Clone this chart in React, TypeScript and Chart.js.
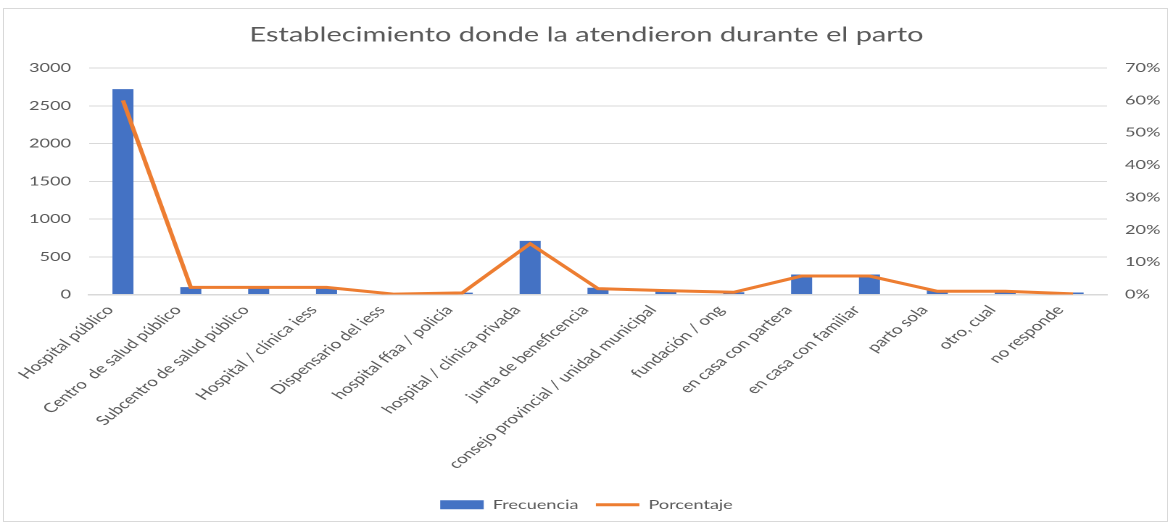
import React, { useEffect, useRef } from "react";
import { Chart, registerables } from "chart.js";

Chart.register(...registerables);

const categories: string[] = [
  "Hospital público",
  "Centro  de salud público",
  "Subcentro de salud público",
  "Hospital / clínica iess",
  "Dispensario del iess",
  "hospital ffaa / policía",
  "hospital / clínica privada",
  "junta de beneficencia",
  "consejo provincial / unidad municipal",
  "fundación / ong",
  "en casa con partera",
  "en casa con familiar",
  "parto sola",
  "otro, cual",
  "no responde",
];

const frecuencia: number[] = [2720, 97, 95, 95, 5, 25, 710, 89, 53, 30, 265, 265, 53, 47, 26];
const porcentaje: number[] = [60.0, 2.2, 2.2, 2.2, 0.1, 0.5, 15.7, 1.8, 1.2, 0.7, 5.7, 5.7, 1.0, 1.0, 0.2];

const titleText = "Establecimiento donde la atendieron durante el parto";
const leftTicks: number[] = [0, 500, 1000, 1500, 2000, 2500, 3000];
const rightTicks: number[] = [0, 10, 20, 30, 40, 50, 60, 70];

const TEXT = "#595959";
const GRID = "#d9d9d9";
const FONT = "Lato, 'Open Sans', sans-serif";

// The original chart is a horizontally stretched image; the canvas is drawn
// narrower and shown at full width to give the same look.
const OUT_W = 1173;
const OUT_H = 527;
const STRETCH = 1.45;
const IN_W = Math.round(OUT_W / STRETCH);

export default function App() {
  const ref = useRef<HTMLCanvasElement | null>(null);

  useEffect(() => {
    document.body.style.margin = "0";
    const canvas = ref.current;
    if (!canvas) return;
    const chart = new Chart(canvas, {
      type: "bar",
      data: {
        labels: categories,
        datasets: [
          {
            type: "line",
            label: "Porcentaje",
            data: porcentaje,
            yAxisID: "y1",
            borderColor: "#ED7D31",
            backgroundColor: "#ED7D31",
            borderWidth: 3,
            pointRadius: 0,
            tension: 0,
            pointStyle: "line",
          } as any,
          {
            type: "bar",
            label: "Frecuencia",
            data: frecuencia,
            yAxisID: "y",
            backgroundColor: "#4472C4",
            borderWidth: 0,
            barPercentage: 0.31,
            categoryPercentage: 1.0,
            pointStyle: "rect",
          } as any,
        ],
      },
      options: {
        animation: false,
        responsive: false,
        maintainAspectRatio: false,
        devicePixelRatio: 2,
        layout: { padding: { top: 8, left: 0, right: 0, bottom: 6 } },
        plugins: {
          title: {
            display: true,
            text: titleText,
            color: TEXT,
            font: { family: FONT, size: 20, weight: "normal" as any },
            padding: { top: 15, bottom: 21 },
          },
          legend: {
            position: "bottom",
            labels: {
              color: TEXT,
              font: { family: FONT, size: 12.5 },
              usePointStyle: true,
              pointStyleWidth: 30,
              boxHeight: 9,
              padding: 12,
              sort: (a: any, b: any) => b.datasetIndex - a.datasetIndex,
            },
          },
          tooltip: { enabled: false },
        },
        scales: {
          x: {
            grid: { display: false, drawTicks: false },
            border: { display: true, color: GRID, width: 1.5 },
            ticks: {
              color: TEXT,
              font: { family: FONT, size: 13 },
              minRotation: 49,
              maxRotation: 49,
              autoSkip: false,
              padding: 8,
              labelOffset: -9,
            },
            afterFit: (s: any) => {
              s.height = 192;
            },
          },
          y: {
            position: "left",
            min: 0,
            max: 3000,
            afterBuildTicks: (s: any) => {
              s.ticks = leftTicks.map((v) => ({ value: v }));
            },
            grid: { color: GRID, drawTicks: false },
            border: { display: false },
            ticks: {
              color: TEXT,
              font: { family: FONT, size: 12.5 },
              padding: 12.4,
              callback: (v: any) => String(v),
            },
            afterFit: (s: any) => {
              s.width = 89 / STRETCH;
            },
          },
          y1: {
            position: "right",
            min: 0,
            max: 70,
            afterBuildTicks: (s: any) => {
              s.ticks = rightTicks.map((v) => ({ value: v }));
            },
            grid: { display: false, drawTicks: false },
            border: { display: false },
            ticks: {
              color: TEXT,
              font: { family: FONT, size: 12.5 },
              padding: 12.4,
              callback: (v: any) => v + "%",
            },
            afterFit: (s: any) => {
              s.width = 66 / STRETCH;
            },
          },
        },
      },
    });
    return () => chart.destroy();
  }, []);

  return (
    <div style={{ position: "relative", width: OUT_W, height: OUT_H, background: "#fff" }}>
      <canvas
        ref={ref}
        width={IN_W}
        height={OUT_H}
        style={{ position: "absolute", left: 0, top: 0, width: OUT_W + "px", height: OUT_H + "px" }}
      />
      <div
        style={{
          position: "absolute",
          left: 3,
          top: 8,
          width: 1165,
          height: 514,
          border: "1px solid #d9d9d9",
          boxSizing: "border-box",
          pointerEvents: "none",
        }}
      />
    </div>
  );
}
